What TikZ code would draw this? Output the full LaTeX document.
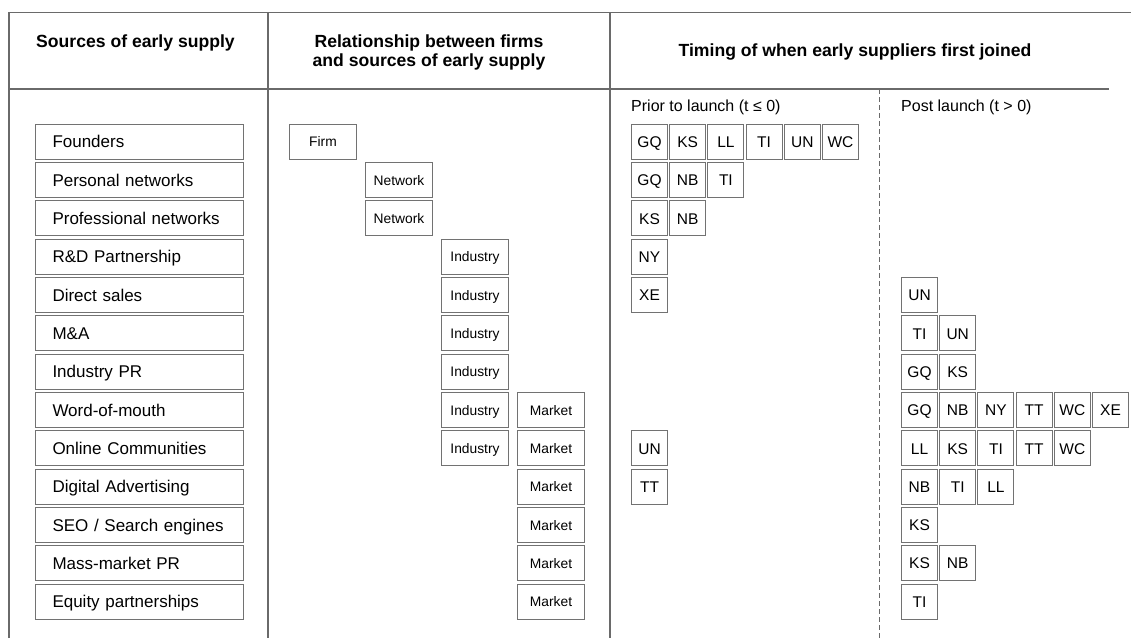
\documentclass[tikz,border=0pt]{standalone}
\usepackage{fontspec}
\setmainfont{Liberation Sans}
\usetikzlibrary{positioning}
\definecolor{rulegray}{HTML}{6A6A6A}
\definecolor{boxgray}{HTML}{727272}
\tikzset{
  rule/.style={draw=rulegray,line width=1.2pt},
  dashrule/.style={rule,line width=1pt,dash pattern=on 5pt off 3pt},
  head/.style={font=\fontsize{17.6}{19}\selectfont\bfseries,align=center,inner sep=0},
  phase/.style={font=\fontsize{16}{19}\selectfont,anchor=west,inner sep=0},
  % the capitals sit in the middle of every box, whatever the descenders
  box/.style={rectangle,draw=boxgray,line width=1pt,anchor=west,minimum height=35pt,
              inner sep=0,text depth=0pt},
  % sources of early supply, text set flush left in a wide box
  source/.style={box,text width=174pt,inner xsep=17pt,align=left,text height=12.2pt,
                 font=\fontsize{17}{20}\selectfont},
  rel/.style={box,minimum width=67pt,text height=9.9pt,font=\fontsize{13.8}{16}\selectfont},
  firmcode/.style={box,minimum width=36pt,text height=11.1pt,font=\fontsize{15.5}{18}\selectfont},
}
\begin{document}
\begin{tikzpicture}[x=1pt,y=-1pt]
  \useasboundingbox (0,0) rectangle (1131,638);
  % table rules
  \draw[rule] (9,638) -- (9,12.7) -- (1131,12.7);
  \draw[rule] (9,89) -- (1109,89);
  \draw[rule] (268,12.7) -- (268,638);
  \draw[rule] (610,12.7) -- (610,638);
  \draw[dashrule] (879,89) -- (879,638);
  % headers
  \node[head] (hsrc) at (135.5,43) {Sources of early supply};
  \node[head] (hrel) at (429,52.5) {Relationship between firms\\and sources of early supply};
  \node[head] (htime) at (855,52) {Timing of when early suppliers first joined};
  \node[phase] (hpre) at (631,107) {Prior to launch (t ≤ 0)};
  \node[phase] (hpost) at (901,107) {Post launch (t > 0)};
  % rows
  \foreach \lab [count=\i] in {Founders,Personal networks,Professional networks,R\&D Partnership,
      Direct sales,M\&A,Industry PR,Word-of-mouth,Online Communities,Digital Advertising,
      {SEO / Search engines},Mass-market PR,Equity partnerships}{
    \pgfmathsetmacro\y{141.8+38.33*(\i-1)}
    \node[source] (src\i) at (35,\y) {\lab};
  }
  % relationship: column 0 firm, 1 network, 2 industry, 3 market
  \foreach \r/\c/\lab in {1/0/Firm,2/1/Network,3/1/Network,4/2/Industry,5/2/Industry,6/2/Industry,
      7/2/Industry,8/2/Industry,8/3/Market,9/2/Industry,9/3/Market,10/3/Market,11/3/Market,
      12/3/Market,13/3/Market}{
    \pgfmathsetmacro\y{141.8+38.33*(\r-1)}
    \node[rel] (rel\r-\c) at (289+76*\c,\y) {\lab};
  }
  % firms that joined before launch
  \foreach \r/\list in {1/{GQ,KS,LL,TI,UN,WC},2/{GQ,NB,TI},3/{KS,NB},4/{NY},5/{XE},9/{UN},10/{TT}}{
    \pgfmathsetmacro\y{141.8+38.33*(\r-1)}
    \foreach \c [count=\k] in \list
      \node[firmcode] (pre\r-\k) at (631+38.2*\k-38.2,\y) {\c};
  }
  % firms that joined after launch
  \foreach \r/\list in {5/{UN},6/{TI,UN},7/{GQ,KS},8/{GQ,NB,NY,TT,WC,XE},9/{LL,KS,TI,TT,WC},
      10/{NB,TI,LL},11/{KS},12/{KS,NB},13/{TI}}{
    \pgfmathsetmacro\y{141.8+38.33*(\r-1)}
    \foreach \c [count=\k] in \list
      \node[firmcode] (post\r-\k) at (901+38.2*\k-38.2,\y) {\c};
  }
\end{tikzpicture}
\end{document}
